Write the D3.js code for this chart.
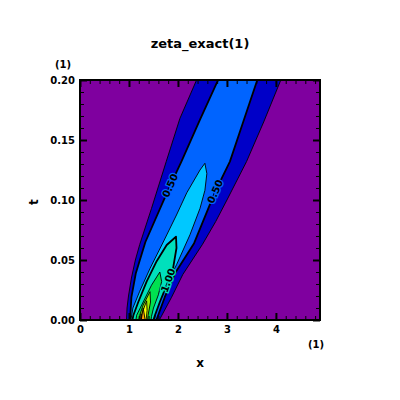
<!DOCTYPE html>
<html>
<head>
<meta charset="utf-8">
<script src="https://cdn.jsdelivr.net/npm/d3@7"></script>
<style>
  body { margin: 0; background: #fff; }
  text { font-family: "DejaVu Sans", sans-serif; }
</style>
</head>
<body>
<svg id="chart" width="400" height="400"></svg>
<script>
// Data (in x / t units)

const levels = [0.25, 0.5, 0.75, 1.0, 1.25, 1.5, 1.75, 2.0, 2.25];
const bandColors = ["#7f009f", "#0000c8", "#0064ff", "#00c8ff", "#00e0bc",
                    "#00e050", "#a0f000", "#ffff00", "#ffa000", "#ff2000"];

// each contour: left side going up, then right side coming down
const c025 = [[0.94,-0.005],[0.95,0],[0.96,0.01],[0.99,0.02],[1.05,0.035],[1.13,0.05],[1.22,0.063],
  [1.46,0.093],[1.76,0.132],[2.04,0.168],[2.38,0.2],[2.44,0.206],
  [4.16,0.206],[4.10,0.2],[3.75,0.165],[3.40,0.132],[3.0,0.1],[2.77,0.082],[2.5,0.063],[2.1,0.038],
  [1.87,0.019],[1.62,0],[1.60,-0.005]];
const c050 = [[1.01,-0.005],[1.02,0],[1.05,0.019],[1.14,0.039],[1.335,0.065],[1.84,0.112],
  [2.07,0.132],[2.45,0.167],[2.82,0.2],[2.88,0.206],
  [3.68,0.206],[3.62,0.2],[3.34,0.166],[3.06,0.132],[2.76,0.107],[2.33,0.064],[1.94,0.039],
  [1.73,0.019],[1.56,0],[1.55,-0.005]];
const c075 = [[1.03,-0.005],[1.04,0],[1.08,0.01],[1.22,0.024],[1.43,0.043],[1.70,0.065],
  [1.97,0.0875],[2.18,0.106],[2.45,0.125],[2.55,0.1306],
  [2.59,0.122],[2.55,0.108],[2.45,0.093],[2.245,0.071],[1.97,0.046],[1.70,0.024],
  [1.565,0.01],[1.52,0],[1.51,-0.005]];
const c100 = [[1.06,-0.005],[1.07,0],[1.09,0.004],[1.19,0.015],[1.36,0.032],[1.565,0.049],
  [1.77,0.0625],[1.96,0.0694],
  [1.97,0.06],[1.90,0.043],[1.77,0.029],[1.63,0.015],[1.53,0.004],[1.50,0],[1.49,-0.005]];
const c125 = [[1.13,-0.005],[1.14,0],[1.157,0.004],[1.29,0.015],[1.46,0.029],[1.63,0.040],
  [1.667,0.032],[1.60,0.021],[1.50,0.01],[1.46,0.003],[1.45,0],[1.44,-0.005]];
const c150 = [[1.19,-0.005],[1.2,0],[1.22,0.004],[1.29,0.0125],[1.43,0.0236],
  [1.44,0.015],[1.39,0.004],[1.38,0],[1.37,-0.005]];
const c175 = [[1.23,-0.005],[1.24,0],[1.27,0.006],[1.36,0.016],[1.37,0.008],[1.35,0],[1.34,-0.005]];
const c200 = [[1.24,-0.005],[1.25,0],[1.29,0.01],[1.33,0],[1.33,-0.005]];
const c225 = [[1.23,-0.005],[1.245,0.005],[1.27,-0.005]];
const contours = [c025, c050, c075, c100, c125, c150, c175, c200, c225];

// contour labels: text, x, t, angle
const contourLabels = [["0.50", 1.84, 0.112, -66], ["0.50", 2.76, 0.107, -66], ["1.00", 1.80, 0.033, -70]];

const xMajor = [0, 1, 2, 3, 4];
const xMinor = d3.range(0, 25).map(i => i / 5);
const yMajor = [0, 0.05, 0.10, 0.15, 0.20];
const yMinor = d3.range(0, 21).map(i => i / 100);

// Chart

const svg = d3.select("#chart");
const pLeft = 80, pRight = 320, pTop = 80, pBottom = 320;

const x = d3.scaleLinear().domain([0, 4.9]).range([pLeft, pRight]);
const y = d3.scaleLinear().domain([0, 0.2]).range([pBottom, pTop]);

svg.append("defs").append("clipPath").attr("id", "plot")
  .append("rect").attr("x", pLeft).attr("y", pTop)
  .attr("width", pRight - pLeft).attr("height", pBottom - pTop);

const g = svg.append("g").attr("clip-path", "url(#plot)");

g.append("rect").attr("x", pLeft).attr("y", pTop)
  .attr("width", pRight - pLeft).attr("height", pBottom - pTop)
  .attr("fill", bandColors[0]);

const line = d3.line().x(d => x(d[0])).y(d => y(d[1])).curve(d3.curveLinearClosed);

contours.forEach((c, i) => {
  const labelled = levels[i] === 0.5 || levels[i] === 1.0;
  g.append("path")
    .attr("d", line(c))
    .attr("fill", bandColors[i + 1])
    .attr("stroke", "#000")
    .attr("stroke-linejoin", "round")
    .attr("stroke-width", labelled ? 1.8 : 0.9);
});

contourLabels.forEach(l => {
  g.append("text")
    .attr("transform", "translate(" + x(l[1]) + "," + y(l[2]) + ") rotate(" + l[3] + ")")
    .attr("text-anchor", "middle")
    .attr("dy", "0.35em")
    .attr("font-size", 10)
    .attr("font-weight", "bold")
    .attr("fill", "#000")
    .attr("stroke", l[0] === "1.00" ? bandColors[4] : bandColors[2])
    .attr("stroke-width", 2.5)
    .attr("paint-order", "stroke")
    .text(l[0]);
});

// axes, ticks point inward
function axis(gen, tr, vals, size, labels, fmt) {
  const a = svg.append("g").attr("transform", tr)
    .call(gen.tickValues(vals).tickSize(-size).tickPadding(labels ? 6 : 0)
      .tickFormat(labels ? fmt : ""));
  a.select(".domain").remove();
  a.selectAll("line").attr("stroke", "#000").attr("stroke-width", size > 5 ? 2 : 1);
  a.selectAll("text").attr("font-size", 10).attr("font-weight", "bold")
    .attr("font-family", "DejaVu Sans, sans-serif").attr("fill", "#000");
  return a;
}

axis(d3.axisBottom(x), "translate(0," + pBottom + ")", xMinor, 4, false);
axis(d3.axisBottom(x), "translate(0," + pBottom + ")", xMajor, 7, true, d3.format("d"));
axis(d3.axisTop(x), "translate(0," + pTop + ")", xMinor, 4, false);
axis(d3.axisTop(x), "translate(0," + pTop + ")", xMajor, 7, false);
axis(d3.axisLeft(y), "translate(" + pLeft + ",0)", yMinor, 4, false);
axis(d3.axisLeft(y), "translate(" + pLeft + ",0)", yMajor, 7, true, d3.format(".2f"))
  .selectAll("text").attr("x", -5);
axis(d3.axisRight(y), "translate(" + pRight + ",0)", yMinor, 4, false);
axis(d3.axisRight(y), "translate(" + pRight + ",0)", yMajor, 7, false);

svg.append("rect").attr("x", pLeft).attr("y", pTop)
  .attr("width", pRight - pLeft).attr("height", pBottom - pTop)
  .attr("fill", "none").attr("stroke", "#000").attr("stroke-width", 2);

// Titles

svg.append("text").attr("x", 200).attr("y", 48).attr("text-anchor", "middle")
  .attr("font-size", 13).attr("font-weight", "bold").text("zeta_exact(1)");
svg.append("text").attr("x", 63).attr("y", 68).attr("text-anchor", "middle")
  .attr("font-size", 10).attr("font-weight", "bold").text("(1)");
svg.append("text").attr("x", 316).attr("y", 348).attr("text-anchor", "middle")
  .attr("font-size", 10).attr("font-weight", "bold").text("(1)");
svg.append("text").attr("x", 200).attr("y", 367).attr("text-anchor", "middle")
  .attr("font-size", 12).attr("font-weight", "bold").text("x");
svg.append("text").attr("transform", "translate(38,202) rotate(-90)").attr("text-anchor", "middle")
  .attr("font-size", 12).attr("font-weight", "bold").text("t");
</script>
</body>
</html>
